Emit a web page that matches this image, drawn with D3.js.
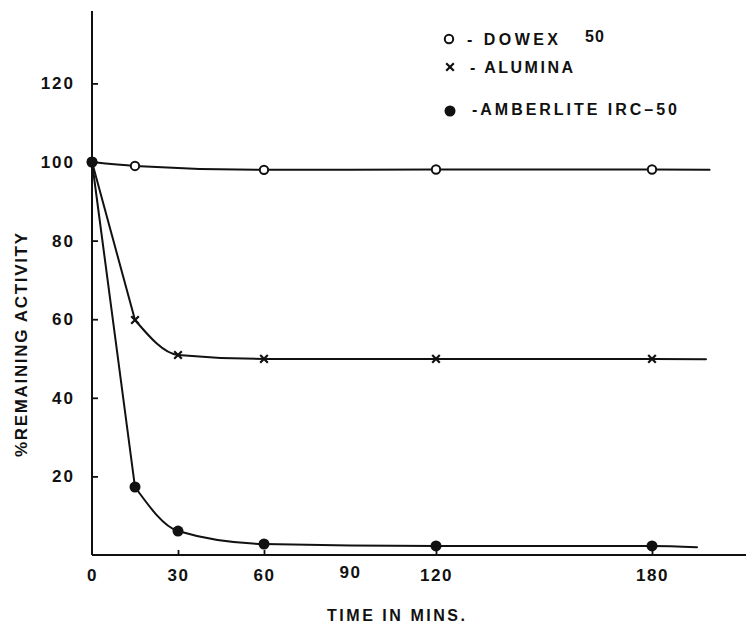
<!DOCTYPE html>
<html>
<head>
<meta charset="utf-8">
<script src="https://cdn.jsdelivr.net/npm/d3@7/dist/d3.min.js"></script>
<style>
  html, body { margin: 0; padding: 0; background: #fff; }
  svg { display: block; }
  text { font-family: "Liberation Sans", Arial, sans-serif; font-weight: bold; fill: #111; }
</style>
</head>
<body>
<svg id="chart" width="746" height="626"></svg>
<script>
// ---- data ----
const xTickValues = [0, 30, 60, 90, 120, 180];
const yTickValues = [20, 40, 60, 80, 100, 120];

const dowexTime = [0, 15, 60, 120, 180];
const dowexVal  = [100, 99.0, 98.0, 98.1, 98.1];
const dowexEnd  = [196, 98.0];

const aluminaTime = [0, 15, 30, 60, 120, 180];
const aluminaVal  = [100, 59.8, 50.9, 49.9, 49.9, 49.9];
const aluminaEnd  = [195, 49.8];

const amberTime = [0, 15, 30, 60, 120, 180];
const amberVal  = [100, 17.3, 6.1, 2.8, 2.3, 2.3];
const amberEnd  = [192.5, 2.0];

const legendLabels = ["- DOWEX", "- ALUMINA", "-AMBERLITE IRC\u201350"];

// ---- layout ----
const svg = d3.select("#chart");
const W = 746, H = 626;
const ink = "#111";

// the original time axis is drawn with a wider 120–180 interval
const x = d3.scaleLinear().domain([0, 120, 180]).range([92, 436, 652]);
const y = d3.scaleLinear().domain([0, 120]).range([555, 83.4]);

// axes lines
svg.append("line").attr("x1", x(0)).attr("x2", W).attr("y1", y(0)).attr("y2", y(0))
  .attr("stroke", ink).attr("stroke-width", 2);
svg.append("line").attr("x1", x(0)).attr("x2", x(0)).attr("y1", y(0)).attr("y2", 11)
  .attr("stroke", ink).attr("stroke-width", 2);

const xAxis = svg.append("g").attr("transform", `translate(0,${y(0)})`)
  .call(d3.axisBottom(x).tickValues(xTickValues).tickFormat(d3.format("d"))
        .tickSizeInner(-5).tickSizeOuter(0).tickPadding(14));
xAxis.select(".domain").remove();
xAxis.selectAll(".tick line").attr("stroke", ink).attr("stroke-width", 1.8)
  .filter(d => d === 0 || d === 90).remove();
xAxis.selectAll(".tick text").attr("font-size", 17).attr("letter-spacing", 1.5)
  .attr("font-family", "Liberation Sans").attr("font-weight", "bold").attr("fill", ink)
  .attr("dy", d => d === 90 ? "0.5em" : "0.72em");

const yAxis = svg.append("g").attr("transform", `translate(${x(0)},0)`)
  .call(d3.axisLeft(y).tickValues(yTickValues).tickFormat(d3.format("d"))
        .tickSizeInner(-6).tickSizeOuter(0).tickPadding(17));
yAxis.select(".domain").remove();
yAxis.selectAll(".tick line").attr("stroke", ink).attr("stroke-width", 1.8);
yAxis.selectAll(".tick text").attr("font-size", 17).attr("letter-spacing", 2)
  .attr("font-family", "Liberation Sans").attr("font-weight", "bold").attr("fill", ink);

// axis titles
svg.append("text").attr("transform", "translate(27,345) rotate(-90)")
  .attr("text-anchor", "middle").attr("font-size", 17)
  .attr("textLength", 224).attr("lengthAdjust", "spacing")
  .text("%REMAINING ACTIVITY");
svg.append("text").attr("x", 396).attr("y", 621)
  .attr("text-anchor", "middle").attr("font-size", 16)
  .attr("textLength", 138).attr("lengthAdjust", "spacing")
  .text("TIME IN MINS.");

// curves: the fast initial drop is drawn nearly straight, then a smooth fitted curve
const straight = d3.line().x(d => x(d[0])).y(d => y(d[1]));
const smooth = d3.line().x(d => x(d[0])).y(d => y(d[1])).curve(d3.curveMonotoneX);
function series(t, v, end) {
  const pts = t.map((d, i) => [d, v[i]]);
  return { pts, path: pts.concat([end]) };
}
const dow = series(dowexTime, dowexVal, dowexEnd);
const alu = series(aluminaTime, aluminaVal, aluminaEnd);
const amb = series(amberTime, amberVal, amberEnd);

function drawSeries(s, splitFirst) {
  const style = p => p.attr("fill", "none").attr("stroke", ink)
    .attr("stroke-width", 2).attr("stroke-linejoin", "round").attr("stroke-linecap", "round");
  if (splitFirst) {
    svg.append("path").attr("d", straight(s.path.slice(0, 2))).call(style);
    svg.append("path").attr("d", smooth(s.path.slice(1))).call(style);
  } else {
    svg.append("path").attr("d", smooth(s.path)).call(style);
  }
}
drawSeries(dow, false);
drawSeries(alu, true);
drawSeries(amb, true);

// markers
function openCircle(g, cx, cy) {
  g.append("circle").attr("cx", cx).attr("cy", cy).attr("r", 4.2)
    .attr("fill", "#fff").attr("stroke", ink).attr("stroke-width", 2);
}
function cross(g, cx, cy) {
  const s = 3.8;
  g.append("path").attr("d", `M${cx-s},${cy-s}L${cx+s},${cy+s}M${cx-s},${cy+s}L${cx+s},${cy-s}`)
    .attr("stroke", ink).attr("stroke-width", 2.2).attr("fill", "none");
}
function dot(g, cx, cy) {
  g.append("circle").attr("cx", cx).attr("cy", cy).attr("r", 5.5).attr("fill", ink);
}
const mk = svg.append("g");
dow.pts.forEach(d => openCircle(mk, x(d[0]), y(d[1])));
alu.pts.forEach(d => cross(mk, x(d[0]), y(d[1])));
amb.pts.forEach(d => dot(mk, x(d[0]), y(d[1])));

// legend
const lg = svg.append("g");
openCircle(lg, 449, 39);
cross(lg, 450, 67);
dot(lg, 450, 111);
lg.append("text").attr("x", 467).attr("y", 45).attr("font-size", 16)
  .attr("textLength", 91).attr("lengthAdjust", "spacing").text(legendLabels[0]);
lg.append("text").attr("x", 585).attr("y", 42).attr("font-size", 16)
  .attr("letter-spacing", 1).text("50");
lg.append("text").attr("x", 470).attr("y", 73).attr("font-size", 16)
  .attr("textLength", 103).attr("lengthAdjust", "spacing").text(legendLabels[1]);
lg.append("text").attr("x", 472).attr("y", 115).attr("font-size", 16)
  .attr("textLength", 205).attr("lengthAdjust", "spacing").text(legendLabels[2]);
</script>
</body>
</html>
